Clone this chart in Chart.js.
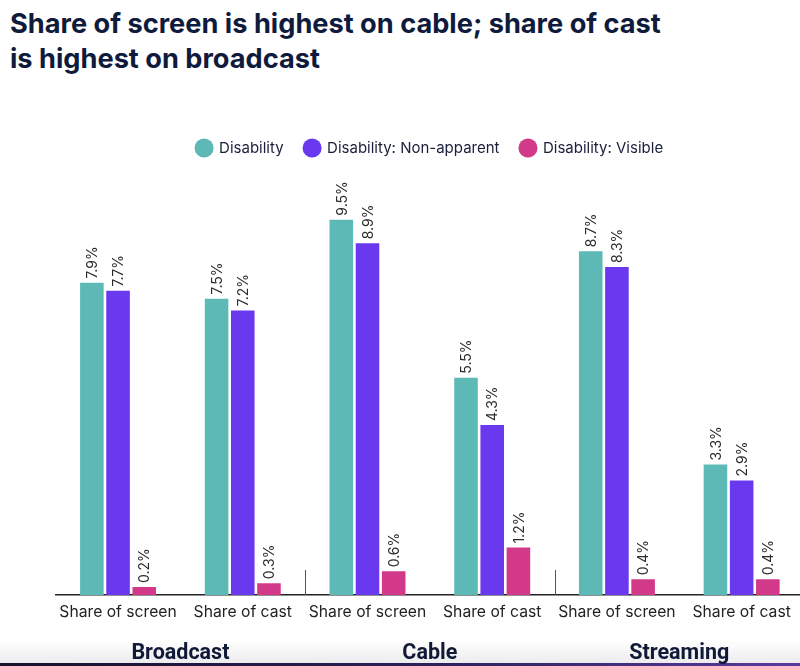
<head>
    <script src="https://cdn.jsdelivr.net/npm/chart.js"></script>
    <style>
        body { margin: 0; background: #fff; width: 800px; height: 666px; overflow: hidden; position: relative; }
        #title { position: absolute; left: 10px; top: 6px; font-family: Inter, sans-serif; font-weight: 700;
                 font-size: 27.2px; line-height: 35px; color: #0f1b3d; }
        #shade { position: absolute; left: 0; top: 640px; width: 800px; height: 23px;
                 background: linear-gradient(to bottom, #ffffff, #ececef); }
        #band { position: absolute; left: 0; top: 663px; width: 800px; height: 3px;
                background: linear-gradient(to right, #16122c, #2a1f55 50%, #5a3aa0); }
        #myChart { position: absolute; left: 0; top: 0; }
    </style>
</head>
<body>
    <div id="shade"></div>
    <div id="band"></div>
    <div id="title">Share of screen is highest on cable; share of cast<br>is highest on broadcast</div>
    <canvas id="myChart" width="804" height="666"></canvas>
    <script>
        const categories = ['Share of screen', 'Share of cast', 'Share of screen', 'Share of cast', 'Share of screen', 'Share of cast']
        const groups = ['Broadcast', 'Cable', 'Streaming']
        const disability = [7.9, 7.5, 9.5, 5.5, 8.7, 3.3]
        const nonApparent = [7.7, 7.2, 8.9, 4.3, 8.3, 2.9]
        const visible = [0.2, 0.3, 0.6, 1.2, 0.4, 0.4]

        // rotated value labels above each bar
        const valueLabels = {
            id: 'valueLabels',
            afterDatasetsDraw(chart) {
                const ctx = chart.ctx
                chart.data.datasets.forEach((ds, i) => {
                    chart.getDatasetMeta(i).data.forEach((bar, j) => {
                        ctx.save()
                        ctx.translate(bar.x, bar.y - 4)
                        ctx.rotate(-Math.PI / 2)
                        ctx.font = '14px Inter, sans-serif'
                        ctx.fillStyle = '#2b2b2b'
                        ctx.textAlign = 'left'
                        ctx.textBaseline = 'middle'
                        ctx.fillText(ds.data[j].toFixed(1) + '%', 0, 1)
                        ctx.restore()
                    })
                })
            }
        }

        // group separators and group names under the axis
        const groupAxis = {
            id: 'groupAxis',
            afterDraw(chart) {
                const ctx = chart.ctx
                const x = chart.scales.x
                const bottom = chart.chartArea.bottom
                ctx.save()
                ctx.strokeStyle = '#555'
                ctx.lineWidth = 1
                for (let g = 1; g < groups.length; g++) {
                    const sx = Math.round((x.getPixelForValue(g * 2 - 1) + x.getPixelForValue(g * 2)) / 2) + 0.5
                    ctx.beginPath()
                    ctx.moveTo(sx, bottom - 25)
                    ctx.lineTo(sx, bottom)
                    ctx.stroke()
                }
                ctx.font = 'bold 21.5px Roboto, sans-serif'
                ctx.fillStyle = '#101a36'
                ctx.textAlign = 'center'
                ctx.textBaseline = 'middle'
                groups.forEach((name, g) => {
                    const cx = (x.getPixelForValue(g * 2) + x.getPixelForValue(g * 2 + 1)) / 2
                    ctx.fillText(name, cx, 654)
                })
                ctx.restore()
            }
        }

        const ctx = document.getElementById('myChart')
        const myChart = new Chart(ctx, {
            type: 'bar',
            data: {
                labels: categories,
                datasets: [
                    { label: 'Disability', data: disability, backgroundColor: '#5db9b6' },
                    { label: 'Disability: Non-apparent', data: nonApparent, backgroundColor: '#6a38ee' },
                    { label: 'Disability: Visible', data: visible, backgroundColor: '#d23a89' }
                ]
            },
            options: {
                responsive: false,
                animation: false,
                categoryPercentage: 0.63,
                barPercentage: 0.9,
                layout: { padding: { top: 119.5, left: 55.7, right: 0, bottom: 0 } },
                plugins: {
                    tooltip: { enabled: false },
                    legend: {
                        position: 'top',
                        labels: {
                            usePointStyle: true,
                            pointStyle: 'circle',
                            boxWidth: 15,
                            boxHeight: 13.5,
                            padding: 21,
                            color: '#1a1f3a',
                            font: { family: 'Inter', size: 15 }
                        }
                    }
                },
                scales: {
                    x: {
                        grid: { display: false, drawTicks: false },
                        border: { display: true, color: '#222', width: 1.5 },
                        ticks: { color: '#222', padding: 8, maxRotation: 0, autoSkip: false,
                                 font: { family: 'Inter', size: 15.7 } },
                        afterFit: (scale) => { scale.height = 71 }
                    },
                    y: {
                        display: false,
                        min: 0,
                        max: 10.87
                    }
                }
            },
            plugins: [valueLabels, groupAxis]
        })
    </script>
</body>
